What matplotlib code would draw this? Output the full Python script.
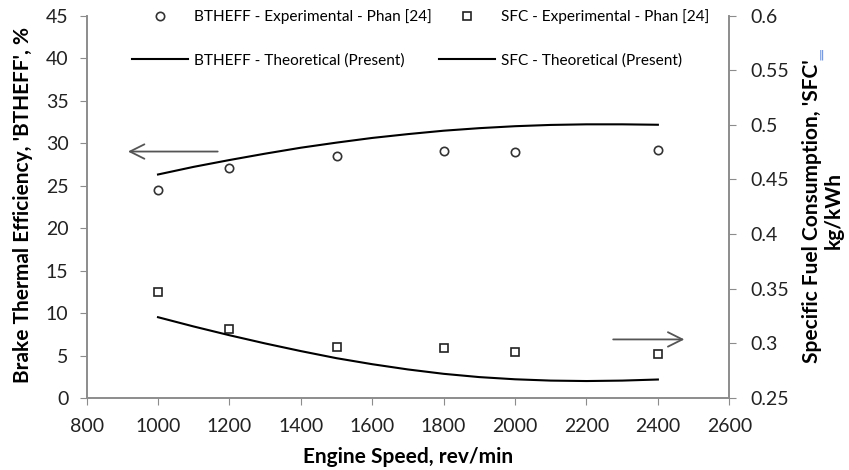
import matplotlib.pyplot as plt
import numpy as np

# engine speed for the experimental points
rpm_exp = [1000, 1200, 1500, 1800, 2000, 2400]
btheff_exp = [24.5, 27.1, 28.5, 29.1, 28.9, 29.2]
sfc_exp = [0.347, 0.313, 0.297, 0.296, 0.292, 0.290]

# theoretical curves, read every 100 rev/min
rpm_th = [1000, 1100, 1200, 1300, 1400, 1500, 1600, 1700,
          1800, 1900, 2000, 2100, 2200, 2300, 2400]
btheff_th = [26.3, 27.2, 28.0, 28.75, 29.45, 30.05, 30.6, 31.05,
             31.45, 31.75, 31.98, 32.13, 32.2, 32.2, 32.15]
sfc_th = [0.324, 0.3155, 0.3075, 0.300, 0.293, 0.2865, 0.281, 0.2762,
          0.2722, 0.2692, 0.2672, 0.266, 0.2656, 0.266, 0.267]

grey = '#8c8c8c'
plt.rcParams['font.family'] = ['Lato', 'DejaVu Sans']

fig = plt.figure(figsize=(8.49, 4.70), dpi=100)
ax = fig.add_axes([0.102, 0.153, 0.757, 0.814])
ax2 = ax.twinx()

h1, = ax.plot(rpm_exp, btheff_exp, 'o', ms=6, mfc='white', mec='#333333', mew=1.2,
              label='BTHEFF - Experimental - Phan [24]')
h2, = ax.plot(rpm_th, btheff_th, '-', color='black', lw=1.5,
              label='BTHEFF - Theoretical (Present)')
h3, = ax2.plot(rpm_exp, sfc_exp, 's', ms=5.5, mfc='white', mec='#222222', mew=1.2,
               label='SFC - Experimental - Phan [24]')
h4, = ax2.plot(rpm_th, sfc_th, '-', color='black', lw=1.5,
               label='SFC - Theoretical (Present)')

ax.set_xlim(800, 2600)
ax.set_ylim(0, 45)
ax2.set_ylim(0.25, 0.6)
ax.set_xticks(np.arange(800, 2601, 200))
ax.set_yticks(np.arange(0, 46, 5))
ax2.set_yticks([0.25, 0.3, 0.35, 0.4, 0.45, 0.5, 0.55, 0.6])
ax2.set_yticklabels(['0.25', '0.3', '0.35', '0.4', '0.45', '0.5', '0.55', '0.6'])

for a in (ax, ax2):
    a.spines['top'].set_visible(False)
    for s in ('left', 'right', 'bottom'):
        a.spines[s].set_color(grey)
        a.spines[s].set_linewidth(1.2)
    a.tick_params(direction='out', length=5, color=grey, labelsize=14,
                  labelcolor='#222222')
ax.tick_params(axis='y', pad=8)
ax.tick_params(axis='x', pad=9)
ax2.tick_params(axis='y', pad=10)

ax.set_xlabel('Engine Speed, rev/min', fontsize=15, fontweight='bold', va='center')
ax.xaxis.set_label_coords(0.5, -0.154)
ax.set_ylabel("Brake Thermal Efficiency, 'BTHEFF', %", fontsize=15,
              fontweight='bold', va='center')
ax.yaxis.set_label_coords(-0.099, 0.505)
ax2.set_ylabel("Specific Fuel Consumption, 'SFC'\nkg/kWh", fontsize=15,
               fontweight='bold', va='center', linespacing=1.1)
ax2.yaxis.set_label_coords(1.146, 0.49)
# stray blue cursor mark next to the right label
fig.text(821 / 849, 1 - 55 / 470, '\u2016', color='#4a7bd8', fontsize=8,
         ha='center', va='center', family='DejaVu Sans')

# direction arrows
ax.annotate('', xy=(908, 29.0), xytext=(1175, 29.0),
            arrowprops=dict(arrowstyle='->', color='#555555', lw=1.3,
                            mutation_scale=26))
ax.annotate('', xy=(2482, 6.9), xytext=(2267, 6.9),
            arrowprops=dict(arrowstyle='->', color='#555555', lw=1.3,
                            mutation_scale=26))

ax.legend([h1, h2, h3, h4], [h.get_label() for h in (h1, h2, h3, h4)],
          ncol=2, loc='upper left', bbox_to_anchor=(132 / 849, 1 - 9 / 470),
          bbox_transform=fig.transFigure, frameon=False, borderpad=0,
          borderaxespad=0, fontsize=11.1, handlelength=3.6, handletextpad=0.4,
          columnspacing=0.5, labelspacing=1.9)

fig.savefig('out.png', dpi=100)
